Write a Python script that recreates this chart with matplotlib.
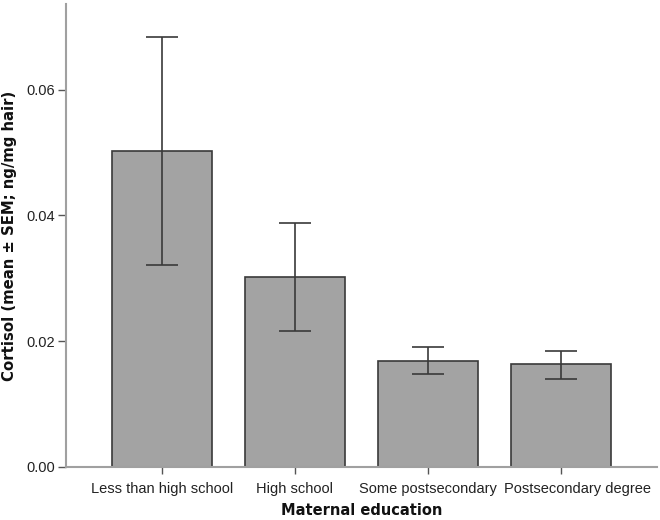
import numpy as np
import matplotlib
matplotlib.use("Agg")
import matplotlib.pyplot as plt
from matplotlib.transforms import ScaledTranslation

# Data
categories = ["Less than high school", "High school", "Some postsecondary", "Postsecondary degree"]
means = [0.0502, 0.0302, 0.01685, 0.0163]
err_upper = [0.0683, 0.0388, 0.0190, 0.01835]
err_lower = [0.0321, 0.0216, 0.01474, 0.0140]

yticks = [0.00, 0.02, 0.04, 0.06]

fig = plt.figure(figsize=(6.6, 5.2), dpi=100)
ax = fig.add_axes([0.1, 0.1025, 0.895, 0.8895])

x = np.arange(len(categories))
means_arr = np.array(means)
yerr = [means_arr - np.array(err_lower), np.array(err_upper) - means_arr]

ax.bar(x, means, width=0.75, color="#a3a3a3", edgecolor="#3a3a3a", linewidth=1.2, zorder=2)
ax.errorbar(x, means, yerr=yerr, fmt="none", ecolor="#3a3a3a", elinewidth=1.2,
            capsize=11.5, capthick=1.2, zorder=3)

ax.set_xlim(-0.72, 3.72)
ax.set_ylim(0, 0.0736)
ax.set_yticks(yticks)
ax.set_yticklabels([f"{v:.2f}" for v in yticks])
ax.set_xticks(x)
ax.set_xticklabels(categories)

for side in ["top", "right"]:
    ax.spines[side].set_visible(False)
for side in ["left", "bottom"]:
    ax.spines[side].set_color("#a0a0a0")
    ax.spines[side].set_linewidth(1.5)

tick_font = "Liberation Sans"
ax.tick_params(axis="y", length=6, width=1, color="#555555", labelsize=10.5,
               labelcolor="#222222", pad=2)
ax.tick_params(axis="x", length=5, width=1, color="#555555", labelsize=10.5,
               labelcolor="#222222", pad=6)
for lbl in ax.get_xticklabels() + ax.get_yticklabels():
    lbl.set_fontfamily(tick_font)

# last category label is nudged right so it doesn't collide with its neighbour
last = ax.get_xticklabels()[-1]
last.set_transform(last.get_transform() + ScaledTranslation(0.17, 0, fig.dpi_scale_trans))

ax.set_xlabel("Maternal education", fontsize=10.5, fontweight="bold", color="#111111")
ax.set_ylabel("Cortisol (mean ± SEM; ng/mg hair)", fontsize=10.7, fontweight="bold",
              color="#111111")
ax.xaxis.set_label_coords(0.5, -0.079)
ax.yaxis.set_label_coords(-0.083, 0.5)

fig.savefig("out.png", dpi=100, facecolor="white")
